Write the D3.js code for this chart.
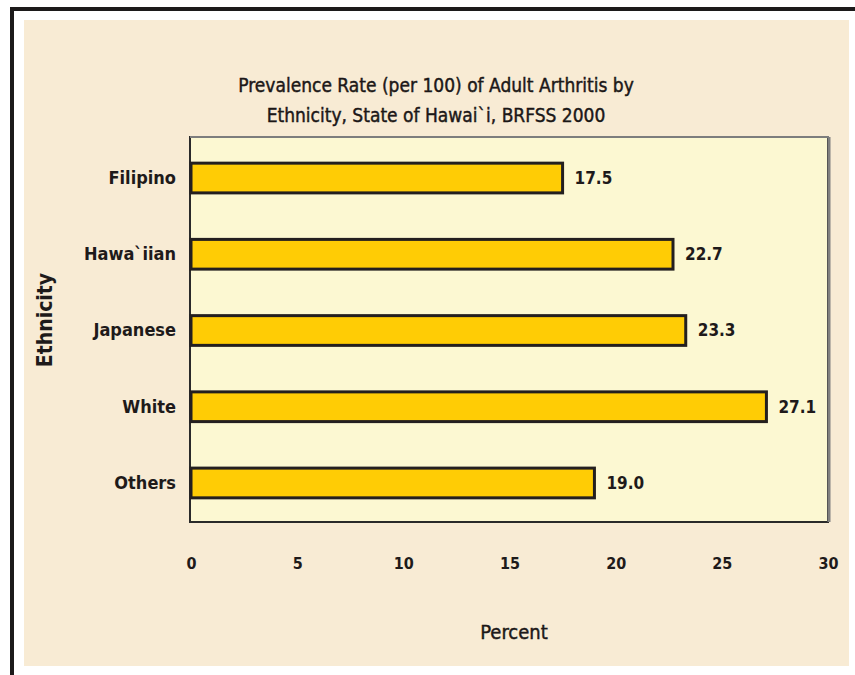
<!DOCTYPE html>
<html>
<head>
<meta charset="utf-8">
<script src="https://cdn.jsdelivr.net/npm/d3@7"></script>
<style>
  html, body { margin: 0; padding: 0; background: #ffffff; }
  svg { display: block; }
  text { font-family: "DejaVu Sans Condensed", "Liberation Sans Narrow", "Open Sans", sans-serif; fill: #1e1a1a; }
</style>
</head>
<body>
<svg id="chart" width="855" height="675"></svg>
<script>
const categories = ["Filipino", "Hawa`iian", "Japanese", "White", "Others"];
const values = [17.5, 22.7, 23.3, 27.1, 19.0];
const valueLabels = ["17.5", "22.7", "23.3", "27.1", "19.0"];
const xTicks = [0, 5, 10, 15, 20, 25, 30];
const titleLines = ["Prevalence Rate (per 100) of Adult Arthritis by", "Ethnicity, State of Hawai`i, BRFSS 2000"];
const xTitle = "Percent";
const yTitle = "Ethnicity";

const svg = d3.select("#chart");

// outer frame
svg.append("rect").attr("x", 0).attr("y", 0).attr("width", 855).attr("height", 675).attr("fill", "#ffffff");
svg.append("rect").attr("x", 10).attr("y", 7).attr("width", 845).attr("height", 4).attr("fill", "#1c1a1a");
svg.append("rect").attr("x", 10).attr("y", 7).attr("width", 4).attr("height", 668).attr("fill", "#1c1a1a");
svg.append("rect").attr("x", 24).attr("y", 20).attr("width", 825).attr("height", 646).attr("fill", "#f8ebd4");

const plot = { left: 190, right: 828, top: 137, bottom: 522 };

const x = d3.scaleLinear().domain([0, 30]).range([plot.left + 1, plot.right]);
const y = d3.scaleBand().domain(categories).range([plot.top + 1, plot.bottom + 1]).paddingInner(0.61).paddingOuter(0.33);

// plot area
svg.append("rect")
  .attr("x", plot.left).attr("y", plot.top)
  .attr("width", plot.right - plot.left).attr("height", plot.bottom - plot.top)
  .attr("fill", "#fcf8d2").attr("stroke", "#2a2a2a").attr("stroke-width", 2);
svg.append("line").attr("x1", plot.left).attr("x2", plot.right + 1).attr("y1", plot.top).attr("y2", plot.top)
  .attr("stroke", "#7d7d7d").attr("stroke-width", 2);
svg.append("line").attr("x1", plot.right + 1).attr("x2", plot.right + 1).attr("y1", plot.top).attr("y2", plot.bottom)
  .attr("stroke", "#808080").attr("stroke-width", 3);

// bars
svg.append("g").selectAll("rect").data(categories).join("rect")
  .attr("x", x(0))
  .attr("y", d => y(d))
  .attr("width", (d, i) => x(values[i]) - x(0))
  .attr("height", y.bandwidth())
  .attr("fill", "#ffcc05")
  .attr("stroke", "#231f1f")
  .attr("stroke-width", 3);

// value labels
svg.append("g").selectAll("text").data(categories).join("text")
  .attr("x", (d, i) => x(values[i]) + 12)
  .attr("y", d => y(d) + y.bandwidth() / 2)
  .attr("dy", "0.35em")
  .attr("font-size", 17)
  .attr("font-weight", "bold")
  .text((d, i) => valueLabels[i]);

// y axis category labels
const yAxis = d3.axisLeft(y).tickSize(0).tickPadding(14);
const gy = svg.append("g").attr("transform", `translate(${plot.left},0)`).call(yAxis);
gy.select(".domain").remove();
gy.selectAll("text").attr("font-size", 18).attr("font-weight", "bold");

// x axis tick labels
const xAxis = d3.axisBottom(x).tickValues(xTicks).tickSize(0).tickPadding(36).tickFormat(d3.format("d"));
const gx = svg.append("g").attr("transform", `translate(0,${plot.bottom})`).call(xAxis);
gx.select(".domain").remove();
gx.selectAll("text").attr("font-size", 16).attr("font-weight", "bold");
svg.selectAll(".tick text").attr("fill", "#1e1a1a").attr("font-family", null);

// titles
svg.append("g").selectAll("text").data(titleLines).join("text")
  .attr("x", 436).attr("y", (d, i) => 92 + i * 30)
  .attr("text-anchor", "middle")
  .attr("font-size", 19)
  .attr("fill", "#141010")
  .style("stroke", "#141010").style("stroke-width", 0.4)
  .text(d => d);

svg.append("text").attr("x", 514).attr("y", 639).attr("text-anchor", "middle")
  .attr("font-size", 20)
  .style("stroke", "#141010").style("stroke-width", 0.4)
  .text(xTitle);

svg.append("text").attr("transform", "translate(52,320) rotate(-90)").attr("text-anchor", "middle")
  .attr("font-size", 21).attr("font-weight", "bold").text(yTitle);
</script>
</body>
</html>
